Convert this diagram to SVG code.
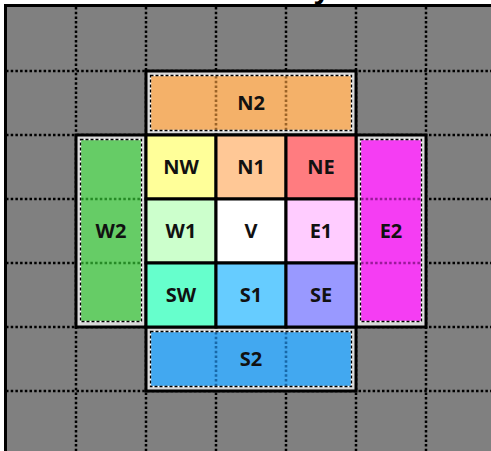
<svg xmlns="http://www.w3.org/2000/svg" width="491" height="451" viewBox="0 0 491 451">
<style>
.grid{fill:none;stroke:#000;stroke-width:2.5;stroke-dasharray:2.5 2.2}
.box{fill:#d9d9d9;stroke:#000;stroke-width:3}
.dw{fill:none;stroke:#fff;stroke-width:1.3}
.db{fill:none;stroke:#000;stroke-width:1.3;stroke-dasharray:3 2}
.cd{fill:none;stroke-width:2.6;stroke-dasharray:2.5 2.2}
.cell{stroke:#000;stroke-width:3}
.lbl{font-family:"Open Sans","Liberation Sans",sans-serif;font-weight:700;font-size:20px;text-anchor:middle;fill:#111}
</style>
<rect x="0" y="0" width="491" height="451" fill="#fff"/>
<text x="314" y="-2" font-family="Open Sans, Liberation Sans, sans-serif" font-weight="700" font-size="28" fill="#000">y</text>
<rect x="5" y="6" width="486" height="445" fill="#808080"/>
<g id="grid">
<path class="grid" d="M76 7V451M146 7V451M216 7V451M286 7V451M356 7V451M426 7V451"/>
<path class="grid" d="M6 71H491M6 135H491M6 199H491M6 263H491M6 327H491M6 391H491"/>
<path d="M5.5 451V5.5H491" fill="none" stroke="#000" stroke-width="3"/>
</g>
<g id="N2">
<rect class="box" x="146" y="71" width="210" height="64"/>
<rect x="150.5" y="75.5" width="201" height="55" fill="#F4B169"/>
<path class="cd" stroke="#9C6428" d="M216 76V130M286 76V130"/>
<rect class="dw" x="150.5" y="75.5" width="201" height="55"/>
<rect class="db" x="150.5" y="75.5" width="201" height="55"/>
<text class="lbl" x="251" y="110">N2</text>
</g>
<g id="W2">
<rect class="box" x="76" y="135" width="70" height="192"/>
<rect x="80.5" y="139.5" width="61" height="182" fill="#66CC66"/>
<path class="cd" stroke="#268A26" d="M81 199H141M81 263H141"/>
<rect class="dw" x="80.5" y="139.5" width="61" height="182"/>
<rect class="db" x="80.5" y="139.5" width="61" height="182"/>
<text class="lbl" x="111" y="238">W2</text>
</g>
<g id="E2">
<rect class="box" x="356" y="135" width="70" height="192"/>
<rect x="360.5" y="139.5" width="61" height="182" fill="#F53DF3"/>
<path class="cd" stroke="#9A1A9A" d="M361 199H421M361 263H421"/>
<rect class="dw" x="360.5" y="139.5" width="61" height="182"/>
<rect class="db" x="360.5" y="139.5" width="61" height="182"/>
<text class="lbl" x="391" y="238">E2</text>
</g>
<g id="S2">
<rect class="box" x="146" y="327" width="210" height="64"/>
<rect x="150.5" y="331.5" width="201" height="55" fill="#42A8F0"/>
<path class="cd" stroke="#1868A8" d="M216 332V386M286 332V386"/>
<rect class="dw" x="150.5" y="331.5" width="201" height="55"/>
<rect class="db" x="150.5" y="331.5" width="201" height="55"/>
<text class="lbl" x="251" y="366">S2</text>
</g>
<g id="NW"><rect class="cell" x="146" y="135" width="70" height="64" fill="#FFFF99"/><text class="lbl" x="181" y="174">NW</text></g>
<g id="N1"><rect class="cell" x="216" y="135" width="70" height="64" fill="#FFC896"/><text class="lbl" x="251" y="174">N1</text></g>
<g id="NE"><rect class="cell" x="286" y="135" width="70" height="64" fill="#FF7C80"/><text class="lbl" x="321" y="174">NE</text></g>
<g id="W1"><rect class="cell" x="146" y="199" width="70" height="64" fill="#CCFFCC"/><text class="lbl" x="181" y="238">W1</text></g>
<g id="V"><rect class="cell" x="216" y="199" width="70" height="64" fill="#FFFFFF"/><text class="lbl" x="251" y="238">V</text></g>
<g id="E1"><rect class="cell" x="286" y="199" width="70" height="64" fill="#FFCCFF"/><text class="lbl" x="321" y="238">E1</text></g>
<g id="SW"><rect class="cell" x="146" y="263" width="70" height="64" fill="#66FFCC"/><text class="lbl" x="181" y="302">SW</text></g>
<g id="S1"><rect class="cell" x="216" y="263" width="70" height="64" fill="#66CCFF"/><text class="lbl" x="251" y="302">S1</text></g>
<g id="SE"><rect class="cell" x="286" y="263" width="70" height="64" fill="#9999FF"/><text class="lbl" x="321" y="302">SE</text></g>
</svg>
